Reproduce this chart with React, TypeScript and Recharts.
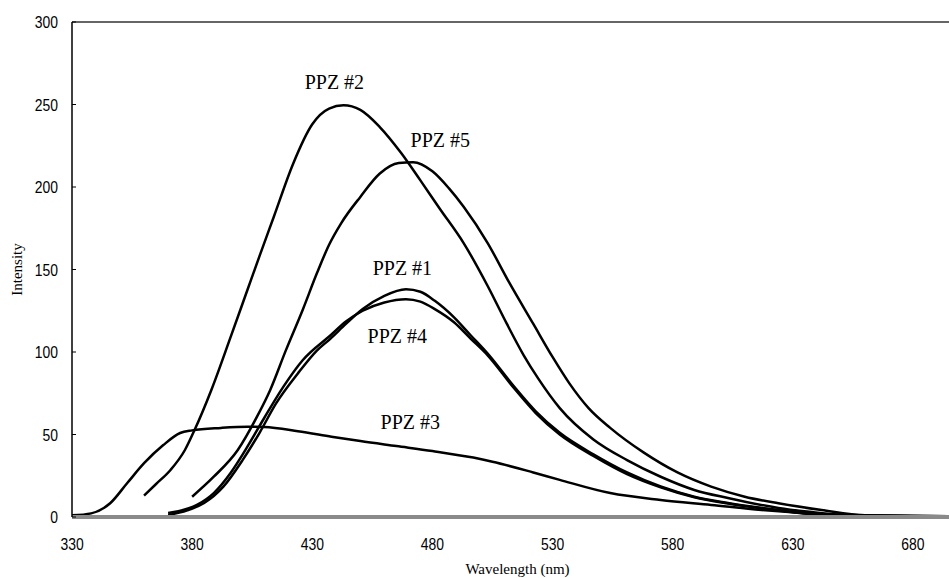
import { LineChart, Line, XAxis, YAxis, ReferenceLine, ReferenceDot } from 'recharts'

// emission spectra (wavelength nm -> intensity)
const ppz1Wl = [370, 378, 385, 393, 401, 408, 415, 424, 432, 437.5, 444, 451, 460, 469, 475, 481, 489, 496, 503, 514, 523, 533, 547, 561, 575, 589, 603, 624, 640, 660, 695]
const ppz1Int = [1.2, 4, 8.5, 18.4, 34.5, 50.9, 69, 87, 101, 108, 117, 126, 134, 138, 136.5, 131, 121, 110, 99, 79, 64, 51, 38, 27, 18.5, 12.3, 8.5, 4.2, 1.5, 0.5, 0.5]

const ppz2Wl = [360, 365, 371, 377, 381, 388, 396, 403, 408, 414, 422, 430, 437, 443, 450, 458, 467, 475, 483, 493, 503, 511, 518, 524, 533, 547, 561, 575, 589, 603, 624, 638, 655, 680, 695]
const ppz2Int = [13, 20, 28.5, 40.6, 52.7, 77, 109, 137.6, 158, 182, 214, 238, 247.5, 249.5, 246.7, 236.5, 220.6, 204, 187, 166, 140, 117, 98, 84, 66, 47, 34.5, 24.4, 16.4, 11.5, 5.5, 3, 1, 0.5, 0.5]

const ppz3Wl = [330, 338, 346, 353, 360, 368, 375, 380, 392, 403, 410, 424, 438, 450, 465, 480, 497, 505, 522, 533, 554, 575, 596, 617, 640, 660, 695]
const ppz3Int = [1, 2.2, 8.5, 20.6, 32.6, 43.6, 50.9, 52.5, 54, 54.7, 54.5, 52, 48.7, 46, 43, 40, 36, 33.5, 27, 22.5, 14.5, 10.3, 7.3, 4.2, 2, 1, 0.5]

const ppz4Wl = [370, 382, 389, 396, 403, 410, 418, 426, 437.5, 444, 451, 460, 469, 475, 481, 489, 496, 503, 514, 523, 533, 547, 561, 575, 589, 603, 624, 640, 660, 695]
const ppz4Int = [2.4, 7.3, 14.5, 26.7, 42.6, 60, 79, 95, 110, 118.5, 125, 130, 132, 130.5, 126, 118, 108, 98, 78, 63, 50, 37, 26, 18, 12, 8.2, 4, 1.5, 0.5, 0.5]

const ppz5Wl = [380, 389, 399, 407, 412.5, 419, 426, 432, 437, 442, 450, 458, 466, 472, 480, 487, 493, 503, 512, 522, 530, 537, 545, 554, 568, 582, 596, 610, 624, 642, 660, 695]
const ppz5Int = [12.3, 24.4, 40.6, 60.8, 77, 101, 125.5, 148, 165, 178, 194, 208, 214.5, 215, 209.5, 199, 188, 166, 142, 117, 97, 81, 66, 54, 39, 27, 18.4, 12.3, 8.3, 4.2, 1, 0.5]

const xTicks = [330, 380, 430, 480, 530, 580, 630, 680]
const yTicks = [0, 50, 100, 150, 200, 250, 300]

const seriesNames = ['PPZ #1', 'PPZ #2', 'PPZ #3', 'PPZ #4', 'PPZ #5']
const labelWl = [467.5, 439.2, 470.8, 465.4, 483.3]
const labelInt = [151, 264, 57.6, 110, 228.5]

const zip = (wl: number[], v: number[]) => wl.map((x, i) => ({ x, y: v[i] }))
const series = [
  zip(ppz1Wl, ppz1Int),
  zip(ppz2Wl, ppz2Int),
  zip(ppz3Wl, ppz3Int),
  zip(ppz4Wl, ppz4Int),
  zip(ppz5Wl, ppz5Int),
]

const numFont = "'Liberation Sans Narrow', 'Liberation Sans', sans-serif"
const textFont = "'Liberation Serif', 'DejaVu Serif', serif"

// narrow-looking digits: squeeze horizontally
function NumText({ x, y, dy, anchor, value }: any) {
  return (
    <text transform={`translate(${x} ${y}) scale(0.82 1)`} dy={dy} textAnchor={anchor}
      fontSize={17} fontFamily={numFont} fill="#000">
      {value}
    </text>
  )
}

function YTick(props: any) {
  const { x, y, payload } = props
  return (
    <g>
      <line x1={x + 14} x2={x + 18} y1={y} y2={y} stroke="#000" strokeWidth={1} />
      <NumText x={x} y={y} dy={6} anchor="end" value={payload.value} />
    </g>
  )
}

function XTick(props: any) {
  const { x, y, payload } = props
  return <NumText x={x} y={y} dy={12} anchor="middle" value={payload.value} />
}

function YLabel(props: any) {
  const { viewBox } = props
  const cx = viewBox.x + 17
  const cy = viewBox.y + viewBox.height / 2
  return (
    <text x={cx} y={cy} transform={`rotate(-90 ${cx} ${cy})`} textAnchor="middle" dy={5}
      fontSize={15} fontFamily={textFont} fill="#000">
      Intensity
    </text>
  )
}

export default function App() {
  return (
    <div style={{ width: 949, height: 578, background: '#fff' }}>
      <style>{'body{margin:0;overflow:hidden}'}</style>
      <LineChart width={949} height={578} margin={{ top: 22, right: 0, left: 0, bottom: 1 }}>
        <XAxis
          dataKey="x"
          type="number"
          domain={[330, 695]}
          ticks={xTicks}
          allowDataOverflow
          height={60}
          tickLine={false}
          tickSize={0}
          tickMargin={21}
          axisLine={{ stroke: '#8a8a8a', strokeWidth: 4 }}
          tick={<XTick />}
          label={{ value: 'Wavelength (nm)', position: 'insideBottom', offset: 3, dx: 7, fontSize: 15, fontFamily: textFont, fill: '#000' }}
        />
        <YAxis
          type="number"
          domain={[0, 300]}
          ticks={yTicks}
          width={72}
          tickLine={false}
          tickSize={0}
          tickMargin={14}
          axisLine={{ stroke: '#000', strokeWidth: 1.5 }}
          tick={<YTick />}
          label={{ content: <YLabel /> }}
        />
        <ReferenceLine y={300} stroke="#666" strokeWidth={2} />
        {series.map((d, i) => (
          <Line
            key={seriesNames[i]}
            data={d}
            dataKey="y"
            name={seriesNames[i]}
            type="monotone"
            stroke="#000"
            strokeWidth={2.5}
            dot={false}
            activeDot={false}
            isAnimationActive={false}
          />
        ))}
        {seriesNames.map((n, i) => (
          <ReferenceDot
            key={n}
            x={labelWl[i]}
            y={labelInt[i]}
            r={0}
            stroke="none"
            fill="none"
            label={{ value: n, position: 'center', fontSize: 20, fontFamily: textFont, fill: '#000' }}
          />
        ))}
      </LineChart>
    </div>
  )
}
